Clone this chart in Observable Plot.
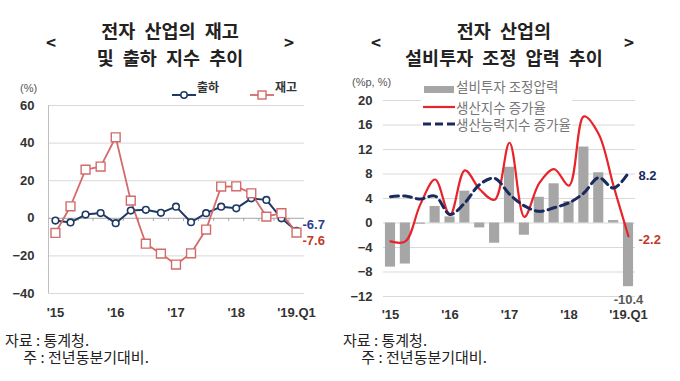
<!DOCTYPE html>
<html><head><meta charset="utf-8">
<script src="https://cdn.jsdelivr.net/npm/d3@7"></script>
<script src="https://cdn.jsdelivr.net/npm/@observablehq/plot@0.6"></script>
<style>
html,body{margin:0;padding:0;background:#fff;}
#root{position:relative;width:680px;height:381px;overflow:hidden;background:#fff;font-family:"Noto Sans CJK KR","Noto Sans",sans-serif;color:#222;}
.abs{position:absolute;white-space:pre;}
.ttl{font-size:18.5px;font-weight:bold;line-height:24px;text-align:center;word-spacing:5px;}
.br{font-size:17px;font-weight:bold;line-height:20px;}
.unit{font-size:11px;color:#555;line-height:14px;font-family:"Liberation Sans",sans-serif;}
.lg{font-size:12px;font-weight:bold;color:#333;line-height:14px;}
.lg2{font-size:13.5px;color:#777;line-height:16.5px;background:#fff;padding:0 1px;}
.foot{font-size:15px;line-height:17px;letter-spacing:0px;color:#222;}
</style>
</head><body>
<div id="root"></div>
<script>
// ---------- data ----------
const quarterIdx = d3.range(17); // 2015Q1 .. 2019Q1
const xTickIdx = [0, 4, 8, 12, 16];
const xTickLabels = ["'15", "'16", "'17", "'18", "'19.Q1"];

// left chart: 전자 산업의 재고 및 출하 지수 추이 (%)
const shipment = [-1.2, -2.2, 2.0, 2.8, -2.6, 4.1, 4.5, 2.9, 6.2, -2.1, 2.7, 6.2, 5.3, 10.6, 9.8, 0.0, -6.7];
const inventory = [-7.8, 6.4, 25.9, 27.5, 43.1, 9.4, -13.5, -18.8, -24.6, -18.6, -6.0, 16.9, 17.0, 13.3, 0.9, 2.7, -7.6];
const leftYTicks = [-40, -20, 0, 20, 40, 60];

// right chart: 전자 산업의 설비투자 조정 압력 추이 (%p, %)
const pressure = [-7.2, -6.7, -0.2, 2.7, 1.0, 5.2, -0.8, -3.3, 9.1, -2.0, 4.2, 6.4, 3.5, 12.4, 8.2, 0.4, -10.4];
const production = [-3.0, -3.0, 3.0, 7.1, 1.3, 8.6, 5.5, 3.8, 13.1, 1.0, 6.5, 8.8, 6.1, 17.4, 14.5, 6.0, -2.2];
const capacity = [4.3, 4.4, 3.9, 4.4, 1.4, 3.3, 6.3, 7.3, 4.7, 2.8, 1.9, 2.5, 3.3, 4.9, 7.4, 5.7, 8.2];
const rightYTicks = [-12, -8, -4, 0, 4, 8, 12, 16, 20];

const navy = "#1f3864";
const red = "#d46a6a";
const red2 = "#e8232a";
const gray = "#a6a6a6";

const root = document.getElementById("root");
const tickFmt = i => xTickLabels[xTickIdx.indexOf(i)];

// ---------- left chart ----------
const leftData = quarterIdx.map(i => ({i, ship: shipment[i], inv: inventory[i]}));
const lx = [-0.46, 16.53];
const lastL = [leftData[leftData.length - 1]];
const left = Plot.plot({
  width: 340, height: 381,
  marginTop: 105, marginBottom: 88, marginLeft: 48, marginRight: 36,
  style: {position: "absolute", left: "0px", top: "0px", background: "transparent", overflow: "visible",
          fontFamily: "'Liberation Sans', Arial, sans-serif", fontSize: "13px", fontWeight: "bold", color: "#333"},
  x: {domain: lx, ticks: xTickIdx, tickFormat: tickFmt, tickSize: 0, tickPadding: 14, label: null},
  y: {domain: [leftYTicks[0], leftYTicks[leftYTicks.length - 1]], ticks: leftYTicks, tickSize: 0, tickPadding: 14, label: null},
  marks: [
    Plot.ruleY(leftYTicks.filter(t => t !== 0), {stroke: "#d9d9d9", strokeWidth: 1}),
    Plot.ruleX([lx[0]], {y1: leftYTicks[0], y2: leftYTicks[leftYTicks.length - 1], stroke: "#bfbfbf"}),
    Plot.ruleY([0], {stroke: "#a6a6a6", strokeWidth: 1}),
    Plot.ruleX(quarterIdx.slice(0, -1).map(i => i + 0.5), {y1: 0, y2: -1.7, stroke: "#a6a6a6"}),
    Plot.line(leftData, {x: "i", y: "ship", stroke: navy, strokeWidth: 2}),
    Plot.line(leftData, {x: "i", y: "inv", stroke: red, strokeWidth: 1.8}),
    Plot.dot(leftData, {x: "i", y: "ship", r: 3.3, fill: "white", stroke: navy, strokeWidth: 1.6}),
    Plot.dot(leftData, {x: "i", y: "inv", symbol: "square", r: 5, fill: "white", stroke: red, strokeWidth: 1.4}),
    Plot.text(lastL, {x: "i", y: "ship", text: d => d.ship.toFixed(1), dx: 6, dy: -6, textAnchor: "start", fill: "#2e3d8f", fontWeight: "bold", fontSize: 13}),
    Plot.text(lastL, {x: "i", y: "inv", text: d => d.inv.toFixed(1), dx: 6, dy: 8, textAnchor: "start", fill: "#c0392b", fontWeight: "bold", fontSize: 13})
  ]
});
root.appendChild(left);

// ---------- right chart ----------
const rightData = quarterIdx.map(i => ({i, bar: pressure[i], prod: production[i], cap: capacity[i]}));
const rx = [-0.47, 16.47];
const lastR = [rightData[rightData.length - 1]];
const right = Plot.plot({
  width: 340, height: 381,
  marginTop: 100, marginBottom: 85, marginLeft: 43, marginRight: 45,
  style: {position: "absolute", left: "340px", top: "0px", background: "transparent", overflow: "visible",
          fontFamily: "'Liberation Sans', Arial, sans-serif", fontSize: "13px", fontWeight: "bold", color: "#333"},
  x: {domain: rx, ticks: xTickIdx, tickFormat: tickFmt, tickSize: 0, tickPadding: 13, label: null},
  y: {domain: [rightYTicks[0], rightYTicks[rightYTicks.length - 1]], ticks: rightYTicks, tickSize: 0, tickPadding: 11, label: null},
  marks: [
    Plot.ruleY(rightYTicks, {stroke: "#d9d9d9", strokeWidth: 1}),
    Plot.rectY(rightData, {x1: d => d.i - 0.34, x2: d => d.i + 0.34, y: "bar", fill: gray}),
    Plot.line(rightData, {x: "i", y: "prod", stroke: red2, strokeWidth: 2.2, curve: "catmull-rom"}),
    Plot.line(rightData, {x: "i", y: "cap", stroke: "#1a2a5e", strokeWidth: 3, strokeDasharray: "8,5", curve: "catmull-rom"}),
    Plot.text(lastR, {x: "i", y: "cap", text: d => d.cap.toFixed(1), dx: 10, dy: 3, textAnchor: "start", fill: "#1a2a5e", fontWeight: "bold", fontSize: 13}),
    Plot.text(lastR, {x: "i", y: "prod", text: d => d.prod.toFixed(1), dx: 10, dy: 3, textAnchor: "start", fill: "#c0392b", fontWeight: "bold", fontSize: 13}),
    Plot.text(lastR, {x: "i", y: "bar", text: d => d.bar.toFixed(1), dy: 13, textAnchor: "middle", fill: "#595959", fontWeight: "bold", fontSize: 13})
  ]
});
root.appendChild(right);

// ---------- text overlays ----------
function add(html, css, cls) {
  const d = document.createElement("div");
  d.className = "abs " + (cls || "");
  d.innerHTML = html;
  Object.assign(d.style, css);
  root.appendChild(d);
  return d;
}
// titles
add("전자 산업의 재고\n및 출하 지수 추이", {left: "50px", width: "240px", top: "17px", lineHeight: "27px"}, "ttl");
add("&lt;", {left: "46px", top: "32px"}, "br");
add("&gt;", {left: "284px", top: "32px"}, "br");
add("전자 산업의\n설비투자 조정 압력 추이", {left: "384px", width: "240px", top: "17px", lineHeight: "27px"}, "ttl");
add("&lt;", {left: "371px", top: "32px"}, "br");
add("&gt;", {left: "624px", top: "32px"}, "br");

// left legend
add("(%)", {left: "20px", top: "81px"}, "unit");
add('<svg width="24" height="10" style="vertical-align:middle"><line x1="0" y1="5" x2="24" y2="5" stroke="' + navy + '" stroke-width="2"/><circle cx="12" cy="5" r="3.2" fill="white" stroke="' + navy + '" stroke-width="1.5"/></svg>', {left: "172px", top: "80px"});
add("출하", {left: "197px", top: "80px"}, "lg");
add('<svg width="24" height="10" style="vertical-align:middle"><line x1="0" y1="5" x2="24" y2="5" stroke="' + red + '" stroke-width="1.8"/><rect x="8" y="1" width="8" height="8" fill="white" stroke="' + red + '" stroke-width="1.4"/></svg>', {left: "250px", top: "80px"});
add("재고", {left: "275px", top: "80px"}, "lg");

// right legend
add("(%p, %)", {left: "352px", top: "75px"}, "unit");
add('<svg width="36" height="58">' +
    '<rect x="3" y="6" width="30" height="7" fill="' + gray + '"/>' +
    '<line x1="2" y1="27" x2="34" y2="27" stroke="' + red2 + '" stroke-width="2.2"/>' +
    '<line x1="2" y1="44" x2="34" y2="44" stroke="#1a2a5e" stroke-width="3" stroke-dasharray="8,4"/>' +
    '</svg>', {left: "421px", top: "80px", background: "#fff", lineHeight: "0"});
add("설비투자 조정압력", {left: "455px", top: "78px"}, "lg2");
add("생산지수 증가율\n생산능력지수 증가율", {left: "455px", top: "99px"}, "lg2");

// footnotes
const footText = "자료 : 통계청.\n\u2002\u2002 주 : 전년동분기대비.";
add(footText, {left: "5px", top: "331px"}, "foot").textContent = footText;
add(footText, {left: "343px", top: "331px"}, "foot").textContent = footText;
</script>
</body></html>
